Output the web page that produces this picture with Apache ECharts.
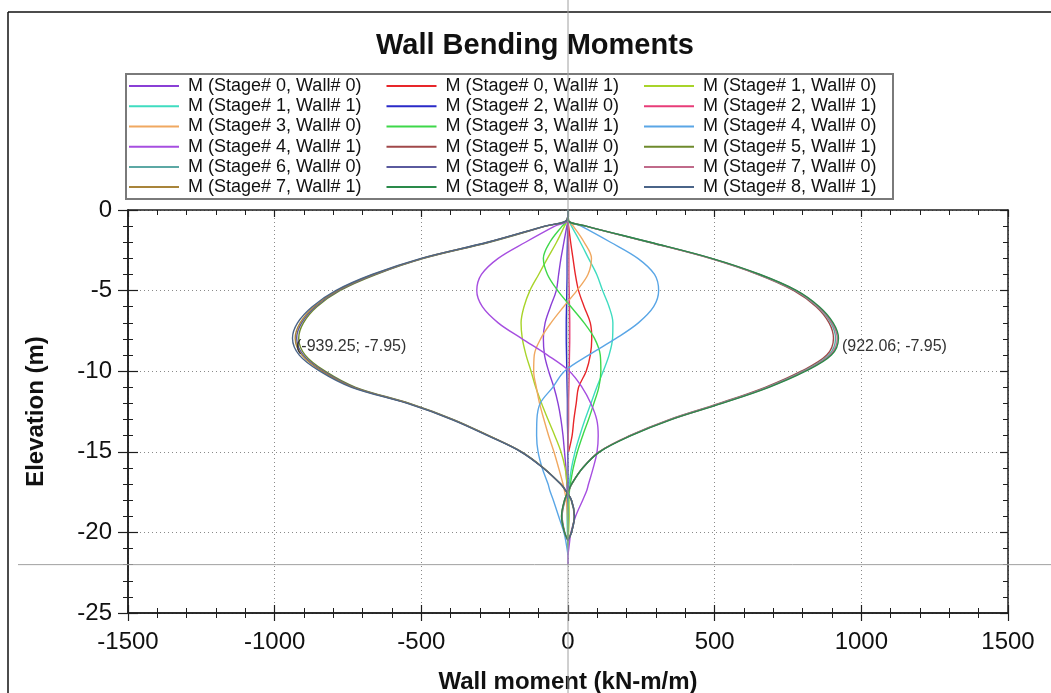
<!DOCTYPE html>
<html>
<head>
<meta charset="utf-8">
<title>Wall Bending Moments</title>
<script src="https://cdn.jsdelivr.net/npm/echarts@6/dist/echarts.min.js"></script>
<style>
  html, body { margin: 0; padding: 0; background: #ffffff; }
  #chart { width: 1051px; height: 693px; }
</style>
</head>
<body>
<div id="chart"></div>
<script>
// Elevations (m) at which every wall moment profile is sampled
const depths = [0, -0.62, -1, -2, -3, -4, -5, -6, -7, -7.95, -9, -10, -11, -12, -13, -14, -15, -16, -17, -17.4, -18, -19, -20, -20.5, -21.4, -22];

// Bending moment (kN-m/m) per stage and wall, one value per elevation (null = below wall toe)
const mS0W0 = [0, 0, -4, -14, -24, -32, -40, -60, -78, -84, -80, -66, -48, -34, -24, -17, -12, -7, -4, -3, -2, -1, 0, 0, 0, 0];
const mS0W1 = [0, 0, 2, 9, 17, 25, 36, 55, 76, 81, 76, 62, 36, 28, 20, 14, 2, null, null, null, null, null, null, null, null, null];
const mS1W0 = [0, -2, -12, -39, -70, -100, -130, -150, -160, -156, -143, -126, -110, -90, -68, -45, -24, -10, -3, 0, 3, 4, 2, 1, 0, null];
const mS1W1 = [0, 2, 12, 42, 70, 98, 118, 140, 153, 152, 140, 120, 98, 78, 58, 40, 24, 12, 4, 1, -2, -3, -2, -1, 0, null];
const mS2W0 = [0, 0, -1, -2, -3, -3, -4, -5, -6, -6, -5, -4, -3, -2, -2, -1, -1, 0, 0, 0, 0, 0, 0, 0, 0, null];
const mS2W1 = [0, 0, 1, 2, 3, 3, 4, 5, 6, 6, 5, 4, 3, 2, 2, 1, 0, null, null, null, null, null, null, null, null, null];
const mS3W0 = [0, 2, 18, 55, 80, 68, 30, -15, -58, -92, -115, -117, -108, -97, -82, -66, -48, -32, -17, -12, -6, -2, 0, 0, 0, null];
const mS3W1 = [0, -2, -20, -62, -84, -70, -35, 10, 55, 90, 110, 112, 105, 88, 70, 50, 32, 18, 8, 5, 2, 0, 0, 0, 0, null];
const mS4W0 = [0, 0, 45, 145, 238, 295, 309, 292, 240, 165, 70, -12, -52, -95, -106, -107, -102, -88, -68, -62, -50, -32, -14, -8, 0, null];
const mS4W1 = [0, 0, -45, -145, -238, -295, -311, -292, -238, -160, -70, 5, 48, 78, 98, 103, 99, 86, 70, 64, 50, 26, 10, 6, 0, null];
const mS5W0 = [0, 0, 60, 276, 484, 648, 770, 846, 890, 905, 882, 795, 672, 515, 345, 210, 106, 50, 13, 3, -10, -20, -11, 0, null, null];
const mS5W1 = [0, -3, -76, -268, -492, -655, -778, -856, -902, -918, -896, -828, -724, -540, -390, -270, -158, -83, -25, -8, 11, 21, 11, 0, null, null];
const mS6W0 = [0, 0, 61, 278, 487, 651, 775, 851, 896, 912, 889, 802, 678, 520, 348, 212, 107, 50, 12, 2, -11, -21, -12, 0, null, null];
const mS6W1 = [0, -3, -77, -271, -495, -660, -783, -861, -908, -925, -902, -834, -729, -543, -392, -271, -159, -84, -25, -8, 12, 22, 12, 0, null, null];
const mS7W0 = [0, 0, 62, 279, 489, 653, 778, 854, 900, 918, 894, 806, 682, 523, 350, 213, 107, 50, 12, 2, -12, -22, -12, 0, null, null];
const mS7W1 = [0, -4, -78, -273, -498, -664, -787, -866, -913, -930, -907, -839, -733, -545, -394, -272, -160, -84, -25, -8, 12, 22, 12, 0, null, null];
const mS8W0 = [0, 0, 62, 280, 490, 655, 780, 857, 904, 922.06, 898, 810, 685, 525, 352, 215, 108, 50, 12, 2, -12, -22, -12, 0, null, null];
const mS8W1 = [0, -4, -80, -275, -501, -668, -792, -872, -922, -939.25, -916, -846, -738, -548, -396, -274, -161, -85, -25, -8, 12, 22, 12, 0, null, null];

const seriesNames = [
  'M (Stage# 0, Wall# 0)', 'M (Stage# 0, Wall# 1)', 'M (Stage# 1, Wall# 0)',
  'M (Stage# 1, Wall# 1)', 'M (Stage# 2, Wall# 0)', 'M (Stage# 2, Wall# 1)',
  'M (Stage# 3, Wall# 0)', 'M (Stage# 3, Wall# 1)', 'M (Stage# 4, Wall# 0)',
  'M (Stage# 4, Wall# 1)', 'M (Stage# 5, Wall# 0)', 'M (Stage# 5, Wall# 1)',
  'M (Stage# 6, Wall# 0)', 'M (Stage# 6, Wall# 1)', 'M (Stage# 7, Wall# 0)',
  'M (Stage# 7, Wall# 1)', 'M (Stage# 8, Wall# 0)', 'M (Stage# 8, Wall# 1)'
];
const seriesMoments = [mS0W0, mS0W1, mS1W0, mS1W1, mS2W0, mS2W1, mS3W0, mS3W1, mS4W0,
  mS4W1, mS5W0, mS5W1, mS6W0, mS6W1, mS7W0, mS7W1, mS8W0, mS8W1];
const seriesColors = [
  '#8a3fd6', '#e8262a', '#a8d42a',
  '#3fdcc0', '#2a2ac8', '#e83c78',
  '#f0a860', '#3ed84a', '#5aa6e6',
  '#a64ee0', '#a0484a', '#6e8a2c',
  '#5ca8a4', '#5a5a9e', '#c06a8a',
  '#a8843a', '#2a8a4a', '#4a6488'
];

// Axis ranges and tick steps
const xRange = [-1500, 1500];
const xStep = 500;
const yRange = [-25, 0];
const yStep = 5;

const FONT = '"Liberation Sans", Arial, sans-serif';
const AXIS_COLOR = '#1e1e1e';

function toPoints(values) {
  const pts = [];
  values.forEach((v, k) => { if (v !== null) pts.push([v, depths[k]]); });
  return pts;
}

function extremeLabel(values, pickMax) {
  let idx = 0;
  values.forEach((v, k) => {
    if (v === null) return;
    if (pickMax ? v > values[idx] : v < values[idx]) idx = k;
  });
  return { coord: [values[idx], depths[idx]], text: '(' + values[idx].toFixed(2) + '; ' + depths[idx].toFixed(2) + ')' };
}

const peakPos = extremeLabel(mS8W0, true);
const peakNeg = extremeLabel(mS8W1, false);

function markFor(p) {
  return {
    silent: true,
    symbol: 'circle',
    symbolSize: 1,
    itemStyle: { color: 'rgba(0,0,0,0)' },
    data: [{ coord: p.coord, value: p.text }],
    label: {
      show: true,
      position: 'right',
      distance: 3,
      offset: [0, 8],
      formatter: p.text,
      fontFamily: FONT,
      fontSize: 16,
      color: '#333'
    }
  };
}

const series = seriesNames.map((name, i) => {
  const s = {
    name: name,
    type: 'line',
    xAxisIndex: 0,
    yAxisIndex: 0,
    data: toPoints(seriesMoments[i]),
    symbol: 'none',
    smooth: 0.35,
    animation: false,
    lineStyle: { width: 1.4, color: seriesColors[i] },
    itemStyle: { color: seriesColors[i] },
    emphasis: { disabled: true }
  };
  if (seriesMoments[i] === mS8W0) s.markPoint = markFor(peakPos);
  if (seriesMoments[i] === mS8W1) s.markPoint = markFor(peakNeg);
  return s;
});

// Three legend columns, filled row by row; plain line swatches
const legendCols = [0, 1, 2].map(c => ({
  data: seriesNames.filter((n, i) => i % 3 === c),
  orient: 'vertical',
  left: 129 + c * 257.5,
  top: 76,
  icon: 'rect',
  itemWidth: 50,
  itemHeight: 2,
  itemGap: 0,
  padding: 0,
  selectedMode: false,
  textStyle: { fontFamily: FONT, fontSize: 18, lineHeight: 20.2, color: '#111', padding: [0, 0, 0, 4] }
}));

function tickAxis(base, extra) {
  return Object.assign({
    type: 'value',
    axisLine: { show: true, onZero: false, lineStyle: { color: AXIS_COLOR, width: 1.5 } },
    splitLine: { show: false },
    axisLabel: { show: false },
    silent: true
  }, base, extra);
}

const plainNumber = v => String(v);
const xBase = { min: xRange[0], max: xRange[1], interval: xStep, gridIndex: 0 };
const yBase = { min: yRange[0], max: yRange[1], interval: yStep, gridIndex: 0 };

const option = {
  backgroundColor: '#ffffff',
  animation: false,
  title: {
    text: 'Wall Bending Moments',
    left: 371,
    top: 26,
    textStyle: { fontFamily: FONT, fontSize: 29, fontWeight: 'bold', color: '#111' }
  },
  legend: legendCols,
  grid: { left: 128, right: 43, top: 210, bottom: 80, containLabel: false, outerBoundsMode: 'none' },
  xAxis: [
    tickAxis(xBase, {
      position: 'bottom',
      axisTick: { show: true, inside: false, length: 8, lineStyle: { color: AXIS_COLOR, width: 1.2 } },
      minorTick: { show: true, splitNumber: 5, length: 5, lineStyle: { color: AXIS_COLOR, width: 1 } },
      axisLabel: { show: true, formatter: plainNumber, fontFamily: FONT, fontSize: 24, color: '#111', margin: 17 },
      splitLine: { show: true, lineStyle: { color: '#8a8a8a', width: 1, type: [1, 3] } },
      name: 'Wall moment (kN-m/m)',
      nameLocation: 'middle',
      nameGap: 57,
      nameTextStyle: { fontFamily: FONT, fontSize: 24, fontWeight: 'bold', color: '#111' }
    }),
    tickAxis(xBase, {
      position: 'bottom',
      axisTick: { show: true, inside: true, length: 8, lineStyle: { color: AXIS_COLOR, width: 1.2 } },
      minorTick: { show: true, splitNumber: 5, length: 5, lineStyle: { color: AXIS_COLOR, width: 1 } }
    }),
    tickAxis(xBase, {
      position: 'top',
      axisTick: { show: true, inside: true, length: 7, lineStyle: { color: AXIS_COLOR, width: 1.2 } },
      minorTick: { show: true, splitNumber: 5, length: 5, lineStyle: { color: AXIS_COLOR, width: 1 } }
    })
  ],
  yAxis: [
    tickAxis(yBase, {
      position: 'left',
      axisTick: { show: true, inside: false, length: 10, lineStyle: { color: AXIS_COLOR, width: 1.2 } },
      minorTick: { show: true, splitNumber: 5, length: 5, lineStyle: { color: AXIS_COLOR, width: 1 } },
      axisLabel: { show: true, formatter: plainNumber, fontFamily: FONT, fontSize: 24, color: '#111', margin: 16 },
      splitLine: { show: true, lineStyle: { color: '#8a8a8a', width: 1, type: [1, 3] } },
      name: 'Elevation (m)',
      nameLocation: 'middle',
      nameGap: 80,
      nameRotate: 90,
      nameTextStyle: { fontFamily: FONT, fontSize: 24, fontWeight: 'bold', color: '#111' }
    }),
    tickAxis(yBase, {
      position: 'left',
      axisTick: { show: true, inside: true, length: 10, lineStyle: { color: AXIS_COLOR, width: 1.2 } },
      minorTick: { show: true, splitNumber: 5, length: 5, lineStyle: { color: AXIS_COLOR, width: 1 } }
    }),
    tickAxis(yBase, {
      position: 'right',
      axisTick: { show: true, inside: true, length: 8, lineStyle: { color: AXIS_COLOR, width: 1.2 } },
      minorTick: { show: true, splitNumber: 5, length: 5, lineStyle: { color: AXIS_COLOR, width: 1 } }
    })
  ],
  series: series
};

const chart = echarts.init(document.getElementById('chart'), null, { renderer: 'canvas' });
chart.setOption(option);

// Frame, legend box and cursor cross-hair (at M = 0 and the wall toe elevation)
const W = 1051, H = 693;
const crossX = chart.convertToPixel({ xAxisIndex: 0 }, 0);
const crossY = chart.convertToPixel({ yAxisIndex: 0 }, depths[depths.length - 1]);
chart.setOption({
  graphic: [
    { type: 'line', silent: true, z: 0, shape: { x1: 8, y1: 12, x2: W, y2: 12 }, style: { stroke: '#111', lineWidth: 1.5 } },
    { type: 'line', silent: true, z: 0, shape: { x1: 8, y1: 12, x2: 8, y2: H }, style: { stroke: '#111', lineWidth: 1.5 } },
    { type: 'rect', silent: true, z: 0, shape: { x: 126, y: 74, width: 767, height: 125 }, style: { fill: 'none', stroke: '#7a7a7a', lineWidth: 2 } },
    { type: 'line', silent: true, z: 100, shape: { x1: crossX, y1: 0, x2: crossX, y2: H }, style: { stroke: '#a0a0a0', lineWidth: 1 } },
    { type: 'line', silent: true, z: 100, shape: { x1: 18, y1: crossY, x2: W, y2: crossY }, style: { stroke: '#a0a0a0', lineWidth: 1 } }
  ]
});
</script>
</body>
</html>
